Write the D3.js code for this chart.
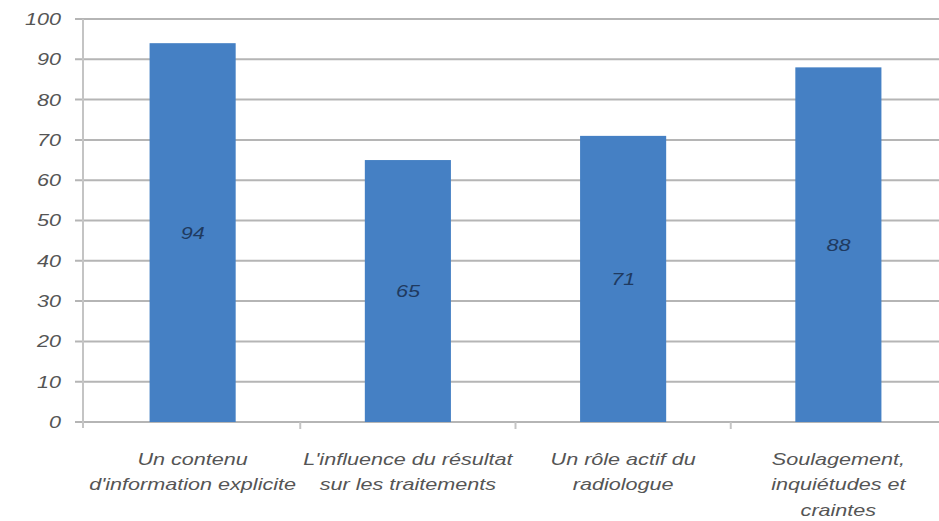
<!DOCTYPE html>
<html>
<head>
<meta charset="utf-8">
<script src="https://cdn.jsdelivr.net/npm/d3@7"></script>
<style>
  html, body { margin: 0; padding: 0; background: #fff; }
  svg { display: block; }
  text { font-family: "Liberation Sans", Arial, sans-serif; font-style: italic; }
</style>
</head>
<body>
<svg id="chart" width="939" height="521"></svg>
<script>
// Categories (multi-line labels) and their percentages
const categories = [
  ["Un contenu", "d'information explicite"],
  ["L'influence du résultat", "sur les traitements"],
  ["Un rôle actif du", "radiologue"],
  ["Soulagement,", "inquiétudes et", "craintes"]
];
const values = [94, 65, 71, 88];
const yTicks = [0, 10, 20, 30, 40, 50, 60, 70, 80, 90, 100];

const svg = d3.select("#chart");
const width = 939, height = 521;
const axisX = 83;
const stretch = 1.27; // wide, horizontally stretched lettering

const x = d3.scaleBand()
  .domain(d3.range(categories.length))
  .range([85, 946])
  .paddingInner(0.6)
  .paddingOuter(0.3);

const y = d3.scaleLinear()
  .domain([0, 100])
  .range([422, 19]);

// Place a text element at (px, py) with horizontal stretching
const place = (px, py) => `translate(${px},${py}) scale(${stretch},1)`;

// Horizontal gridlines with short outer ticks
svg.append("g")
  .selectAll("line")
  .data(yTicks)
  .join("line")
  .attr("x1", axisX - 8)
  .attr("x2", width)
  .attr("y1", d => y(d))
  .attr("y2", d => y(d))
  .attr("stroke", "#b5b5b5")
  .attr("stroke-width", 2);

// Vertical value axis line
svg.append("line")
  .attr("x1", axisX).attr("x2", axisX)
  .attr("y1", y(100)).attr("y2", y(0) + 6)
  .attr("stroke", "#c4c4c4").attr("stroke-width", 2);

// Y tick labels
svg.append("g")
  .selectAll("text")
  .data(yTicks)
  .join("text")
  .attr("transform", d => place(61, y(d)))
  .attr("dy", "0.35em")
  .attr("text-anchor", "end")
  .attr("font-size", 17)
  .attr("fill", "#555")
  .text(d => d);

// Category separator ticks below the baseline
const step = x.step();
svg.append("g")
  .selectAll("line")
  .data(d3.range(1, categories.length))
  .join("line")
  .attr("x1", i => x(i) + x.bandwidth() / 2 - step / 2)
  .attr("x2", i => x(i) + x.bandwidth() / 2 - step / 2)
  .attr("y1", y(0))
  .attr("y2", y(0) + 7)
  .attr("stroke", "#c4c4c4").attr("stroke-width", 2);

// Bars
svg.append("g")
  .selectAll("rect")
  .data(values)
  .join("rect")
  .attr("x", (d, i) => x(i))
  .attr("width", x.bandwidth())
  .attr("y", d => y(d))
  .attr("height", d => y(0) - y(d))
  .attr("fill", "#4580c4");

// Value labels centred in each bar
svg.append("g")
  .selectAll("text")
  .data(values)
  .join("text")
  .attr("transform", (d, i) => place(x(i) + x.bandwidth() / 2, y(d / 2)))
  .attr("dy", "0.35em")
  .attr("text-anchor", "middle")
  .attr("font-size", 17)
  .attr("fill", "#1f3a60")
  .text(d => d);

// Category labels
const cat = svg.append("g")
  .selectAll("text")
  .data(categories)
  .join("text")
  .attr("transform", (d, i) => place(x(i) + x.bandwidth() / 2, 465))
  .attr("text-anchor", "middle")
  .attr("font-size", 17)
  .attr("fill", "#555");
cat.selectAll("tspan")
  .data(d => d)
  .join("tspan")
  .attr("x", 0)
  .attr("dy", (d, j) => j === 0 ? 0 : 25.5)
  .text(d => d);
</script>
</body>
</html>
